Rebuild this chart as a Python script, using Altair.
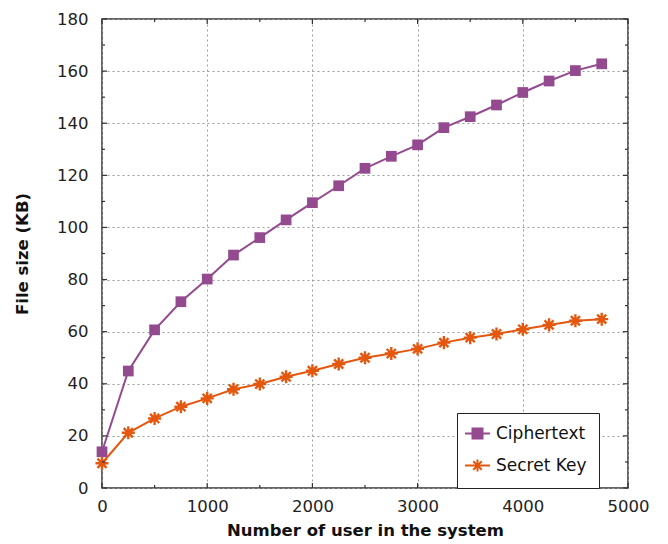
import altair as alt
import pandas as pd

# ---- data ----
users = [0, 250, 500, 750, 1000, 1250, 1500, 1750, 2000, 2250,
         2500, 2750, 3000, 3250, 3500, 3750, 4000, 4250, 4500, 4750]
ciphertext = [13.9, 44.9, 60.7, 71.5, 80.2, 89.4, 96.1, 102.9, 109.5, 116.0,
              122.7, 127.3, 131.7, 138.3, 142.5, 147.0, 151.8, 156.2, 160.2, 162.8]
secret_key = [9.5, 21.2, 26.7, 31.2, 34.4, 37.9, 39.9, 42.7, 45.0, 47.6,
              50.0, 51.6, 53.4, 55.8, 57.7, 59.1, 60.9, 62.6, 64.2, 64.8]
series_names = ["Ciphertext", "Secret Key"]
colors = ["#944a8f", "#e4570f"]

x_major = [0, 1000, 2000, 3000, 4000, 5000]
x_minor = [500, 1500, 2500, 3500, 4500]
y_major = [0, 20, 40, 60, 80, 100, 120, 140, 160, 180]
y_minor = [10, 30, 50, 70, 90, 110, 130, 150, 170]

W, H = 526, 469
FONT = "DejaVu Sans"

rows = []
for name, vals in zip(series_names, [ciphertext, secret_key]):
    for u, v in zip(users, vals):
        rows.append({"users": u, "size": v, "series": name, "entry": name})
df = pd.DataFrame(rows)

xscale = alt.Scale(domain=[0, 5000], nice=False, zero=False)
yscale = alt.Scale(domain=[0, 180], nice=False, zero=False)

xaxis = alt.Axis(values=x_major, title="Number of user in the system", format="d",
                 grid=True, gridDash=[2, 3], gridColor="#9a9a9a", gridWidth=1,
                 ticks=False, tickSize=0, domain=False, labelPadding=10,
                 labelFont=FONT, labelFontSize=16.5, labelColor="#222",
                 titleFont=FONT, titleFontSize=16.5, titleFontWeight="bold",
                 titleColor="#111", titlePadding=8, labelFlush=False)
yaxis = alt.Axis(values=y_major, title="File size (KB)", format="d",
                 grid=True, gridDash=[2, 3], gridColor="#9a9a9a", gridWidth=1,
                 ticks=False, tickSize=0, domain=False, labelPadding=14,
                 labelFont=FONT, labelFontSize=16.5, labelColor="#222",
                 titleFont=FONT, titleFontSize=16.5, titleFontWeight="bold",
                 titleColor="#111", titlePadding=26, labelFlush=False)

base = alt.Chart(df)
cipher_base = base.transform_filter(alt.datum.series == "Ciphertext")
secret_base = base.transform_filter(alt.datum.series == "Secret Key")

cipher_line = cipher_base.mark_line(strokeWidth=2, color=colors[0]).encode(
    x=alt.X("users:Q", scale=xscale, axis=xaxis),
    y=alt.Y("size:Q", scale=yscale, axis=yaxis),
)
secret_line = secret_base.mark_line(strokeWidth=2, color=colors[1]).encode(
    x=alt.X("users:Q", scale=xscale), y=alt.Y("size:Q", scale=yscale),
)

squares = cipher_base.mark_point(
    shape="square", filled=True, size=115, opacity=1, color=colors[0]
).encode(x=alt.X("users:Q", scale=xscale), y=alt.Y("size:Q", scale=yscale))

ast_path = "M-1,0H1M0,-1V1M-0.7,-0.7L0.7,0.7M-0.7,0.7L0.7,-0.7"
stars = secret_base.mark_point(
    shape=ast_path, filled=False, size=170, strokeWidth=2.4, opacity=1, color=colors[1]
).encode(x=alt.X("users:Q", scale=xscale), y=alt.Y("size:Q", scale=yscale))

# legend-only layer (invisible marks, visible legend)
leg_paths = ["M-2.5,0H2.5M-1,-1H1V1H-1Z",
             "M-2.5,0H2.5M0,-1.2V1.2M-0.85,-0.85L0.85,0.85M-0.85,0.85L0.85,-0.85"]
legend = alt.Legend(title=None, orient="none", legendX=355, legendY=394,
                    padding=12, strokeColor="#222", fillColor="white",
                    labelFont=FONT, labelFontSize=17, labelColor="#111",
                    labelOffset=10, symbolSize=100, symbolStrokeWidth=2,
                    rowPadding=12, symbolOpacity=1)
leg_layer = base.mark_point(filled=True, opacity=0).encode(
    x=alt.X("users:Q", scale=xscale), y=alt.Y("size:Q", scale=yscale),
    fill=alt.Fill("entry:N", scale=alt.Scale(domain=series_names, range=colors), legend=legend),
    stroke=alt.Stroke("entry:N", scale=alt.Scale(domain=series_names, range=colors), legend=legend),
    shape=alt.Shape("entry:N", scale=alt.Scale(domain=series_names, range=leg_paths), legend=legend),
)

# inward tick marks on the frame
def yticks(vals, length):
    d = alt.Chart(pd.DataFrame({"v": vals}))
    left = d.mark_rule(color="#333", strokeWidth=1.2).encode(
        y=alt.Y("v:Q", scale=yscale), x=alt.value(0), x2=alt.value(length))
    right = d.mark_rule(color="#333", strokeWidth=1.2).encode(
        y=alt.Y("v:Q", scale=yscale), x=alt.value(W), x2=alt.value(W - length))
    return [left, right]

def xticks(vals, length):
    d = alt.Chart(pd.DataFrame({"v": vals}))
    bottom = d.mark_rule(color="#333", strokeWidth=1.2).encode(
        x=alt.X("v:Q", scale=xscale), y=alt.value(H), y2=alt.value(H - length))
    top = d.mark_rule(color="#333", strokeWidth=1.2).encode(
        x=alt.X("v:Q", scale=xscale), y=alt.value(0), y2=alt.value(length))
    return [bottom, top]

tick_layers = yticks(y_major, 5) + yticks(y_minor, 3) + xticks(x_major, 5) + xticks(x_minor, 3)

chart = alt.layer(cipher_line, secret_line, squares, stars, leg_layer, *tick_layers).properties(
    width=W, height=H,
    autosize=alt.AutoSizeParams(type="none"),
    padding={"left": 102, "top": 19, "right": 40, "bottom": 56},
).configure_view(stroke="#333", strokeWidth=1.5)

chart.save("out.html", embed_options={"renderer": "svg", "actions": False})
